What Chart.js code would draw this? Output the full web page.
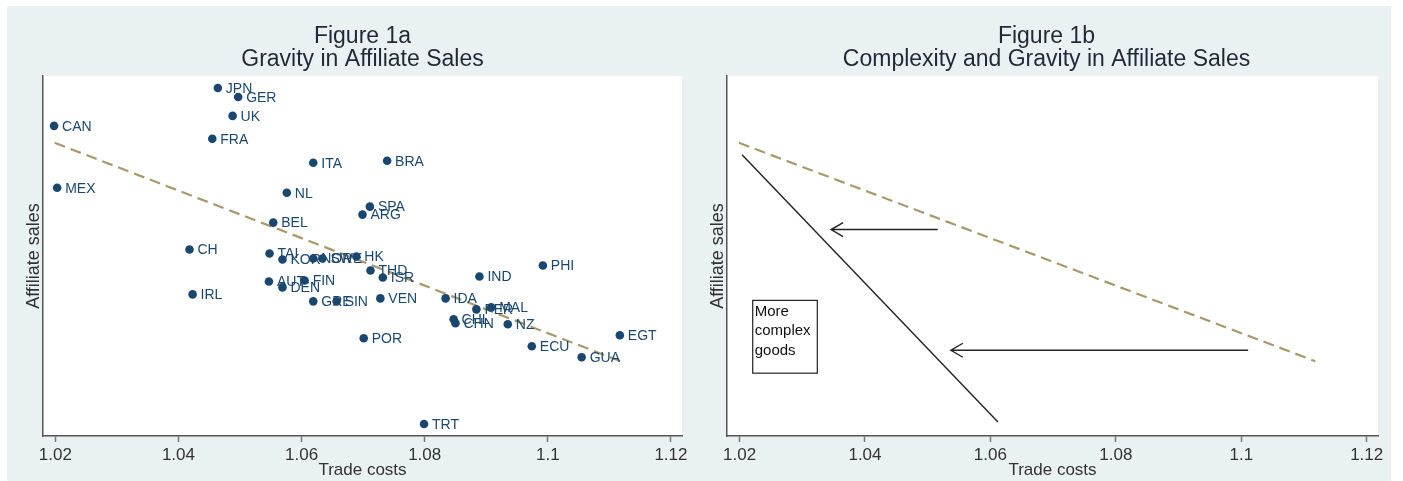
<!DOCTYPE html>
<html>
<head>
<meta charset="utf-8">
<script src="https://cdn.jsdelivr.net/npm/chart.js@4.4.1/dist/chart.umd.min.js"></script>
<style>
  body { margin: 0; background: #fff; }
  #wrap { position: relative; width: 1403px; height: 481px; }
  #bg { position: absolute; left: 7px; top: 6px; width: 1384px; height: 475px; background: #e9f1f3; }
  #c1 { position: absolute; left: 0; top: 0; }
  #c2 { position: absolute; left: 690px; top: 0; }
</style>
</head>
<body>
<div id="wrap">
  <div id="bg"></div>
  <canvas id="c1" width="705" height="481"></canvas>
  <canvas id="c2" width="713" height="481"></canvas>
</div>
<script>
// Figure 1a: countries, trade costs, affiliate sales (arbitrary units)
const countries = ['JPN','GER','UK','CAN','FRA','ITA','BRA','MEX','NL','SPA','ARG','BEL',
  'CH','TAI','KOR','NOR','SWE','HK','THD','ISR','IND','PHI','AUT','FIN','DEN','IRL',
  'GRE','SIN','VEN','IDA','PER','MAL','CHL','CHN','NZ','POR','EGT','ECU','GUA','TRT'];
const tradeCosts = [1.0464,1.0497,1.0488,1.0198,1.0455,1.0619,1.0739,1.0203,1.0576,1.0711,1.0699,1.0554,
  1.0418,1.0548,1.0569,1.0619,1.0634,1.0689,1.0712,1.0732,1.0889,1.0992,1.0547,1.0605,1.0569,1.0423,
  1.0619,1.0657,1.0728,1.0834,1.0884,1.0908,1.0847,1.0850,1.0935,1.0701,1.1117,1.0974,1.1055,1.0799];
const affiliateSales = [349,340,321,311,298,274,276,249,244,230,222,214,
  187,183,177,178,178,180,166,159,160,171,155,156,149,142,
  135,135,138,138,127,129,117,113,112,98,101,90,79,12];

// fitted line (also the "average goods" line in Figure 1b)
const fitX = [1.0199, 1.1118];
const fitY = [294, 75];
// Figure 1b: more complex goods line
const complexX = [1.0204, 1.0612];
const complexY = [282, 14];
// arrows: from x, to x, at y
const arrowFromX = [1.0516, 1.1011];
const arrowToX = [1.0346, 1.0537];
const arrowY = [207, 86];
// label box
const boxX = [1.0221, 1.0324];
const boxY = [136, 63];
const boxText = ['More', 'complex', 'goods'];

const xTicks = [1.02, 1.04, 1.06, 1.08, 1.1, 1.12];
const xMin = 1.018, xMax = 1.1218;
const yMin = 0, yMax = 361;

const FONT = "'Liberation Sans', Arial, sans-serif";
const navy = '#1a476f';
const khaki = '#a8996b';

function scales(yWidth, yTitlePad) {
  return {
    x: {
      type: 'linear', min: xMin, max: xMax,
      afterBuildTicks: s => { s.ticks = xTicks.map(v => ({ value: v })); },
      afterFit: s => { s.height = 45; },
      ticks: { font: { family: FONT, size: 17 }, color: '#333', padding: 3,
        callback: v => String(+v.toFixed(2)) },
      grid: { display: true, drawOnChartArea: false, tickLength: 6, color: '#777', tickWidth: 1.5 },
      border: { display: true, color: '#555', width: 1.5 },
      title: { display: true, text: 'Trade costs', font: { family: FONT, size: 17 }, color: '#333',
        padding: { top: 0, bottom: 0 } }
    },
    y: {
      type: 'linear', min: yMin, max: yMax,
      afterFit: s => { s.width = yWidth; },
      ticks: { display: false },
      grid: { display: false },
      border: { display: true, color: '#555', width: 1.5 },
      title: { display: true, text: 'Affiliate sales', font: { family: FONT, size: 18 }, color: '#333',
        padding: { top: yTitlePad, bottom: 0 } }
    }
  };
}

const panelPlugin = {
  id: 'panel',
  beforeDraw(chart) {
    const a = chart.chartArea, ctx = chart.ctx;
    ctx.save();
    ctx.fillStyle = '#fff';
    ctx.fillRect(a.left, a.top, a.right - a.left, a.bottom - a.top);
    ctx.restore();
  },
  afterDraw(chart, args, opts) {
    const a = chart.chartArea, ctx = chart.ctx;
    const cx = (a.left + a.right) / 2 + opts.shift;
    ctx.save();
    ctx.fillStyle = '#1f2a36';
    ctx.font = '23px ' + FONT;
    ctx.textAlign = 'center';
    ctx.textBaseline = 'middle';
    ctx.fillText(opts.lines[0], cx, 37);
    ctx.fillText(opts.lines[1], cx, 60);
    ctx.restore();
  }
};

// point labels for Figure 1a
const labelPlugin = {
  id: 'ptLabels',
  afterDatasetsDraw(chart) {
    const meta = chart.getDatasetMeta(0), ctx = chart.ctx;
    ctx.save();
    ctx.fillStyle = navy;
    ctx.font = '14px ' + FONT;
    ctx.textBaseline = 'middle';
    meta.data.forEach((pt, i) => ctx.fillText(countries[i], pt.x + 8, pt.y + 1));
    ctx.restore();
  }
};

// arrows and text box for Figure 1b
const notePlugin = {
  id: 'notes',
  afterDatasetsDraw(chart) {
    const ctx = chart.ctx, xs = chart.scales.x, ys = chart.scales.y;
    ctx.save();
    ctx.strokeStyle = '#222';
    ctx.lineWidth = 1.4;
    arrowY.forEach((yv, i) => {
      const x0 = xs.getPixelForValue(arrowFromX[i]), x1 = xs.getPixelForValue(arrowToX[i]);
      const y = ys.getPixelForValue(yv);
      ctx.beginPath();
      ctx.moveTo(x0, y); ctx.lineTo(x1, y);
      ctx.moveTo(x1 + 12, y - 7); ctx.lineTo(x1, y); ctx.lineTo(x1 + 12, y + 7);
      ctx.stroke();
    });
    const bx0 = xs.getPixelForValue(boxX[0]), bx1 = xs.getPixelForValue(boxX[1]);
    const by0 = ys.getPixelForValue(boxY[0]), by1 = ys.getPixelForValue(boxY[1]);
    ctx.lineWidth = 1.2;
    ctx.strokeRect(bx0, by0, bx1 - bx0, by1 - by0);
    ctx.fillStyle = '#111';
    ctx.font = '15px ' + FONT;
    ctx.textBaseline = 'middle';
    boxText.forEach((t, i) => ctx.fillText(t, bx0 + 2, by0 + 11 + i * 19.5));
    ctx.restore();
  }
};

const lineData = (xs, ys) => xs.map((x, i) => ({ x: x, y: ys[i] }));

new Chart(document.getElementById('c1'), {
  type: 'scatter',
  data: {
    datasets: [
      { data: countries.map((c, i) => ({ x: tradeCosts[i], y: affiliateSales[i] })),
        pointRadius: 4.3, pointBackgroundColor: navy, pointBorderWidth: 0 },
      { type: 'line', data: lineData(fitX, fitY), borderColor: khaki, borderWidth: 2.2,
        borderDash: [11, 6], pointRadius: 0, fill: false }
    ]
  },
  options: {
    responsive: false, animation: false, events: [],
    layout: { padding: { top: 76, left: 0, right: 23, bottom: 0 } },
    plugins: { legend: { display: false }, tooltip: { enabled: false },
      panel: { lines: ['Figure 1a', 'Gravity in Affiliate Sales'], shift: 0 } },
    scales: scales(43, 23)
  },
  plugins: [panelPlugin, labelPlugin]
});

new Chart(document.getElementById('c2'), {
  type: 'scatter',
  data: {
    datasets: [
      { type: 'line', data: lineData(fitX, fitY), borderColor: khaki, borderWidth: 2.2,
        borderDash: [11, 6], pointRadius: 0, fill: false },
      { type: 'line', data: lineData(complexX, complexY), borderColor: '#222', borderWidth: 1.4,
        pointRadius: 0, fill: false }
    ]
  },
  options: {
    responsive: false, animation: false, events: [],
    layout: { padding: { top: 76, left: 0, right: 25, bottom: 0 } },
    plugins: { legend: { display: false }, tooltip: { enabled: false },
      panel: { lines: ['Figure 1b', 'Complexity and Gravity in Affiliate Sales'], shift: -6 } },
    scales: scales(37, 17)
  },
  plugins: [panelPlugin, notePlugin]
});
</script>
</body>
</html>
